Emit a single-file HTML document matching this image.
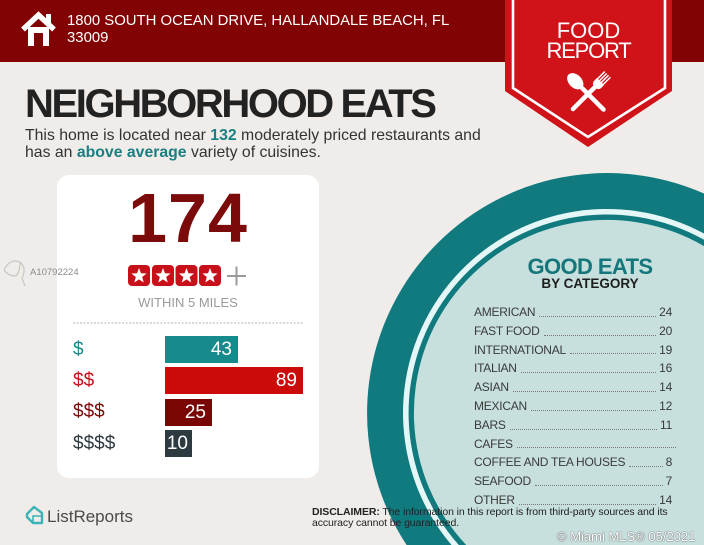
<!DOCTYPE html>
<html><head><meta charset="utf-8"><style>
*{margin:0;padding:0;box-sizing:border-box}
html,body{width:704px;height:545px;overflow:hidden;background:#f0ece9;font-family:"Liberation Sans",Arial,sans-serif}
body{position:relative}
.a{position:absolute;white-space:nowrap}
svg.bg{position:absolute;left:0;top:0}
.row{position:absolute;left:474px;width:198px;height:18.8px;line-height:18.8px;display:flex;font-size:12px;letter-spacing:-0.25px;color:#3a3a3a}
.row .d{flex:1;border-bottom:1.2px dotted #777;margin:0 3px 5px 4px}
.lbl{position:absolute;left:73px;font-size:19px;line-height:20px}
.bar{position:absolute;left:165px;height:27px;color:#fff;font-size:19px;line-height:27px;text-align:right;padding-right:6px}
</style></head><body>
<svg class="bg" width="704" height="545" viewBox="0 0 704 545">
  <defs>
    <polygon id="st" points="0,-8 1.98,-2.72 7.61,-2.47 3.19,1.04 4.7,6.47 0,3.36 -4.7,6.47 -3.19,1.04 -7.61,-2.47 -1.98,-2.72" fill="#fff"/>
  </defs>
  <rect x="0" y="0" width="704" height="62" fill="#820303"/>
  <polyline points="23,29.5 38.5,15 54,29.5" fill="none" stroke="#fff" stroke-width="5.5" stroke-linejoin="miter"/>
  <rect x="46" y="14" width="5" height="10" fill="#fff"/>
  <rect x="28" y="27" width="21" height="19" fill="#fff"/>
  <rect x="34" y="33" width="9" height="13" fill="#820303"/>
  <polygon points="505,0 672,0 672,91 588,147 505,91" fill="#d01219"/>
  <polyline points="513,0 513,88 588,137 665,88 665,0" fill="none" stroke="#fff" stroke-width="2.6"/>
  <g transform="translate(588,94) rotate(-45)" fill="#fff" stroke="#fff">
    <line x1="0" y1="-8" x2="0" y2="22" stroke-width="4.5" stroke-linecap="round"/>
    <ellipse cx="0" cy="-18" rx="6.5" ry="9.5" stroke="none"/>
  </g>
  <g transform="translate(597,85) rotate(45)" fill="#fff" stroke="#fff">
    <line x1="0" y1="0" x2="0" y2="34" stroke-width="4.5" stroke-linecap="round"/>
    <path d="M-5,-5 L5,-5 L5,-1 Q5,3 0,3 Q-5,3 -5,-1 Z" stroke="none"/>
    <line x1="-4" y1="-4" x2="-4" y2="-15" stroke-width="1.5"/>
    <line x1="-1.3" y1="-4" x2="-1.3" y2="-15" stroke-width="1.5"/>
    <line x1="1.3" y1="-4" x2="1.3" y2="-15" stroke-width="1.5"/>
    <line x1="4" y1="-4" x2="4" y2="-15" stroke-width="1.5"/>
  </g>
  <path d="M704,193.5 A240,240 0 0 0 406.6,545 L704,545 Z" fill="#107a7e"/>
  <path d="M704,233.5 A204,204 0 0 0 451.5,545 L704,545 Z" fill="#e4f6f5"/>
  <path d="M704,239.8 A198.5,198.5 0 0 0 458.8,545 L704,545 Z" fill="#107a7e"/>
  <path d="M704,246.1 A193,193 0 0 0 466.2,545 L704,545 Z" fill="#c7e0de"/>
  <rect x="57" y="175" width="262" height="303" rx="12" fill="#fff"/>
  <g>
    <rect x="128" y="265" width="22" height="21" rx="4" fill="#c8101a"/>
    <rect x="152" y="265" width="22" height="21" rx="4" fill="#c8101a"/>
    <rect x="175.5" y="265" width="22" height="21" rx="4" fill="#c8101a"/>
    <rect x="199" y="265" width="22" height="21" rx="4" fill="#c8101a"/>
    <use href="#st" x="139" y="276"/>
    <use href="#st" x="163" y="276"/>
    <use href="#st" x="186.5" y="276"/>
    <use href="#st" x="210" y="276"/>
  </g>
  <line x1="227" y1="276" x2="246" y2="276" stroke="#9a9a9a" stroke-width="2"/>
  <line x1="236.5" y1="266.5" x2="236.5" y2="285.5" stroke="#9a9a9a" stroke-width="2"/>
  <line x1="73" y1="323" x2="303" y2="323" stroke="#b5b5b5" stroke-width="1" stroke-dasharray="2,1.5"/>
  <path d="M27,514 L34,507 L42,513 L42,523 L33,523 L27,517 Z" fill="none" stroke="#3cb4b6" stroke-width="2.4" stroke-linejoin="round"/>
  <path d="M33,523 L33,516 L42,516" fill="none" stroke="#3cb4b6" stroke-width="1.6"/>
  <path d="M4,270 Q10,258 20,262 Q27,268 22,278 L25,286 M4,270 Q8,276 16,276 Q20,272 20,262" fill="none" stroke="#c9c6c3" stroke-width="1.2"/>
</svg>

<div class="a" style="left:67px;top:13px;font-size:14.9px;line-height:17px;color:#fff">1800 SOUTH OCEAN DRIVE, HALLANDALE BEACH, FL<br>33009</div>

<div class="a" style="left:505px;width:167px;top:20px;text-align:center;font-size:22px;line-height:22px;color:#fff">FOOD</div>
<div class="a" style="left:505px;width:167px;top:40px;text-align:center;font-size:22px;line-height:22px;color:#fff;letter-spacing:-1.2px">REPORT</div>

<div class="a" style="left:25px;top:84px;font-size:40px;line-height:40px;font-weight:bold;color:#222;letter-spacing:-2.4px">NEIGHBORHOOD EATS</div>
<div class="a" style="left:25px;top:126.5px;font-size:15.8px;line-height:17px;color:#333">This home is located near <b style="color:#1a7f82">132</b> moderately priced restaurants and<br>has an <b style="color:#1a7f82">above average</b> variety of cuisines.</div>

<div class="a" style="left:57px;width:262px;top:182.5px;text-align:center;font-size:70px;line-height:70px;font-weight:bold;color:#7b0a0a;letter-spacing:1px">174</div>
<div class="a" style="left:57px;width:262px;top:295.5px;text-align:center;font-size:13px;line-height:13px;color:#9a9a9a">WITHIN 5 MILES</div>

<div class="lbl" style="top:339.5px;color:#178a8c">$</div>
<div class="lbl" style="top:370.5px;color:#c8101a">$$</div>
<div class="lbl" style="top:402px;color:#7a0a0a">$$$</div>
<div class="lbl" style="top:433.5px;color:#2e3a40">$$$$</div>

<div class="bar" style="top:336px;width:73px;background:#178a8c">43</div>
<div class="bar" style="top:367px;width:138px;background:#cc0a0a">89</div>
<div class="bar" style="top:399px;width:47px;background:#7a0505">25</div>
<div class="bar" style="top:430px;width:27px;background:#2d3b40;padding-right:4px">10</div>

<div class="a" style="left:30px;top:268px;font-size:9.5px;line-height:10px;color:#8a8a8a">A10792224</div>

<div class="a" style="left:480px;width:220px;top:255.5px;text-align:center;font-size:22px;line-height:22px;font-weight:bold;color:#15777b;letter-spacing:-0.6px">GOOD EATS</div>
<div class="a" style="left:480px;width:220px;top:277px;text-align:center;font-size:13.5px;line-height:13px;font-weight:bold;color:#1e1e1e">BY CATEGORY</div>

<div class="row" style="top:303px"><span>AMERICAN</span><span class="d"></span><span>24</span></div>
<div class="row" style="top:321.8px"><span>FAST FOOD</span><span class="d"></span><span>20</span></div>
<div class="row" style="top:340.6px"><span>INTERNATIONAL</span><span class="d"></span><span>19</span></div>
<div class="row" style="top:359.4px"><span>ITALIAN</span><span class="d"></span><span>16</span></div>
<div class="row" style="top:378.2px"><span>ASIAN</span><span class="d"></span><span>14</span></div>
<div class="row" style="top:397px"><span>MEXICAN</span><span class="d"></span><span>12</span></div>
<div class="row" style="top:415.8px"><span>BARS</span><span class="d"></span><span>11</span></div>
<div class="row" style="top:434.6px;width:202px"><span>CAFES</span><span class="d" style="margin-right:0"></span></div>
<div class="row" style="top:453.4px"><span>COFFEE AND TEA HOUSES</span><span class="d"></span><span>8</span></div>
<div class="row" style="top:472.2px"><span>SEAFOOD</span><span class="d"></span><span>7</span></div>
<div class="row" style="top:491px"><span>OTHER</span><span class="d"></span><span>14</span></div>

<div class="a" style="left:47px;top:507.5px;font-size:17px;line-height:17px;color:#4a4a4a">ListReports</div>

<div class="a" style="left:312px;top:506.5px;font-size:10.5px;line-height:11px;color:#222;letter-spacing:-0.1px"><b>DISCLAIMER:</b> The information in this report is from third-party sources and its<br>accuracy cannot be guaranteed.</div>

<div class="a" style="left:557px;top:531px;font-size:13px;line-height:12px;color:#fff;text-shadow:0 0 1px #555,0 0 1px #555">© Miami MLS® 05/2021</div>
</body></html>
